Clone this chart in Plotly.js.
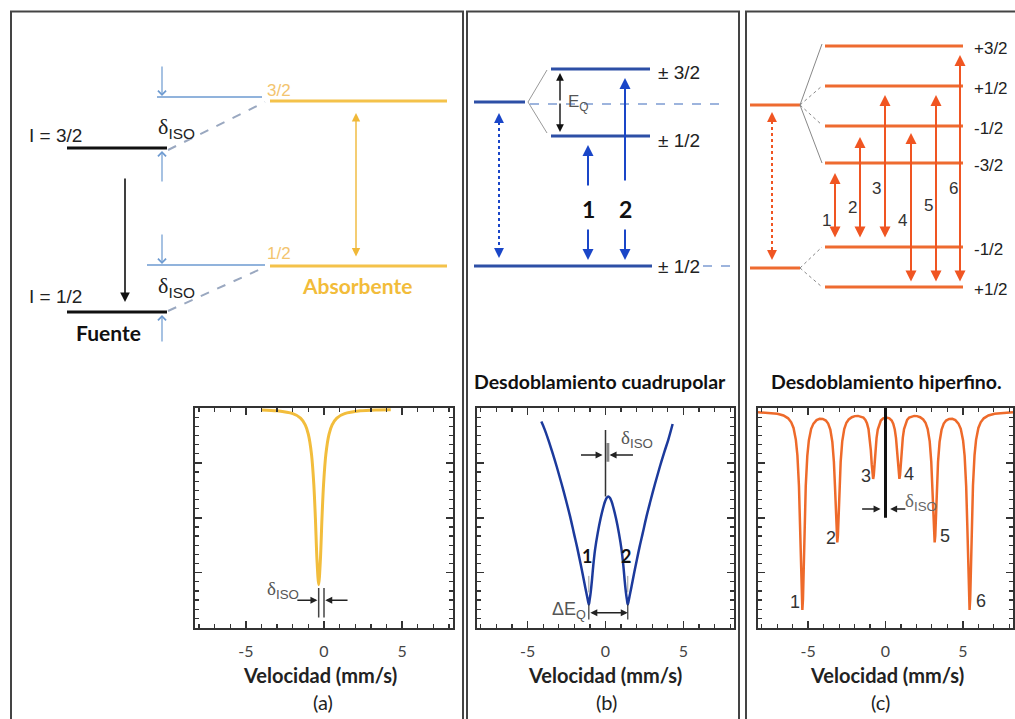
<!DOCTYPE html>
<html>
<head>
<meta charset="utf-8">
<script src="https://cdn.plot.ly/plotly-3.0.1.min.js"></script>
<style>html,body{margin:0;padding:0;background:#fff;}#chart{width:1015px;height:719px;}</style>
</head>
<body>
<div id="chart"></div>
<script>
// ---------- spectrum data (velocity mm/s, relative transmission %) ----------
const velA = [-4.0,-3.0,-2.0,-1.5,-1.2,-1.0,-0.8,-0.65,-0.55,-0.45,-0.34,-0.23,-0.13,-0.03,0.12,0.32,0.52,0.82,1.32,2.32,3.32,4.27];
const transA = [99.1,98.7,97.4,95.4,92.3,88.0,79.0,65.0,49.7,30.9,19.5,30.9,49.7,65.0,79.0,88.0,92.3,95.4,97.4,98.7,99.1,99.2];

const velB = [-4.12,-3.92,-3.67,-3.42,-3.12,-2.82,-2.52,-2.27,-2.03,-1.82,-1.6,-1.47,-1.32,-1.19,-1.12,-1.07,
  -1.02,-0.95,-0.87,-0.79,-0.67,-0.5,-0.32,-0.14,-0.02,0.08,0.18,
  0.28,0.38,0.5,0.68,0.86,1.03,1.15,1.23,1.31,1.38,1.43,
  1.48,1.55,1.68,1.83,1.96,2.18,2.39,2.63,2.88,3.18,3.48,3.78,4.03,4.31];
const transB = [93.8,90.5,85.5,80,73,65.5,57.5,50.5,43,36.5,29,24.5,19,14.5,12,10.5,
  12.5,16,21.5,27.9,35.5,43,49.5,54.8,57.6,59.1,59.7,
  59.1,57.6,54.8,49.5,43,35.5,27.9,21.5,16,12.5,10.5,
  12,14.5,19,24.5,29,36.5,43,50.5,57.5,65.5,73,80,85.5,92.7];

const velC = [-8.25,-7.5,-7.0,-6.6,-6.3,-6.1,-5.95,-5.8,-5.7,-5.6,-5.53,-5.47,-5.42,-5.38,
  -5.34,-5.29,-5.23,-5.16,-5.06,-4.96,-4.81,-4.66,-4.46,-4.26,-4.06,-3.86,-3.71,-3.57,-3.44,-3.34,-3.27,-3.21,-3.16,-3.12,
  -3.08,-3.03,-2.97,-2.90,-2.80,-2.67,-2.53,-2.38,-2.18,-1.98,-1.78,-1.58,-1.43,-1.3,-1.2,-1.1,-1.02,-0.95,-0.89,-0.84,-0.8,
  -0.76,-0.71,-0.65,-0.58,-0.5,-0.4,-0.3,-0.15,0.05,0.25,0.4,0.5,0.6,0.68,0.75,0.81,0.86,0.9,
  0.94,0.99,1.05,1.12,1.2,1.3,1.4,1.53,1.68,1.86,2.04,2.24,2.44,2.59,2.73,2.86,2.96,3.03,3.09,3.14,3.18,
  3.22,3.27,3.33,3.4,3.5,3.63,3.77,3.92,4.12,4.32,4.52,4.72,4.87,5.02,5.12,5.22,5.29,5.35,5.4,5.44,
  5.48,5.53,5.59,5.66,5.76,5.86,6.01,6.16,6.36,6.66,7.06,7.56,8.25];
const transC = [98.1,97.8,97.35,96.6,95.3,93.5,90.9,85.5,78.4,64.6,47.6,27.9,12.9,8.0,
  12.8,27.7,47.4,64.4,78.2,85.2,90.5,92.9,94.5,95.1,95.0,94.3,92.9,90.2,84.6,75.6,64.5,51.5,41.7,38.8,
  41.8,51.7,64.5,75.6,84.8,90.4,93.3,94.8,95.8,96.3,96.4,96.1,95.6,94.6,93.1,90.4,86.5,80.8,74.3,69.3,67.7,
  69.2,74.1,80.6,86.3,90.2,92.85,94.3,95.3,95.7,95.3,94.3,92.85,90.2,86.3,80.6,74.1,69.2,67.7,
  69.3,74.3,80.8,86.5,90.4,93.1,94.6,95.6,96.1,96.4,96.3,95.8,94.8,93.3,90.4,84.8,75.6,64.5,51.7,41.8,38.8,
  41.7,51.5,64.5,75.6,84.6,90.2,92.9,94.3,95.0,95.1,94.5,92.9,90.5,85.2,78.2,64.4,47.4,27.7,12.8,8.0,
  12.9,27.9,47.6,64.6,78.4,85.5,90.9,93.5,95.3,96.6,97.35,97.8,98.1];

const tickVals = [-5, 0, 5];
const tickText = ['-5', '0', '5'];
const xTitle = 'Velocidad (mm/s)';
const panelLabels = ['(a)', '(b)', '(c)'];
const headings = ['Desdoblamiento cuadrupolar', 'Desdoblamiento hiperfino.'];
const levelLabelsB = ['± 3/2', '± 1/2', '± 1/2'];
const levelLabelsC = ['+3/2', '+1/2', '-1/2', '-3/2', '-1/2', '+1/2'];
const transitionsC = ['1', '2', '3', '4', '5', '6'];

// ---------- helpers ----------
const shapes = [];
const ann = [];
function line(xr, yr, x0, y0, x1, y1, color, width, dash) {
  shapes.push({type: 'line', xref: xr, yref: yr, x0, y0, x1, y1, line: {color, width, dash: dash || 'solid'}});
}
function oline(x0, y0, x1, y1, color, width, dash) { line('x4', 'y4', x0, y0, x1, y1, color, width, dash); }
function arrow(xr, yr, x0, y0, x1, y1, color, width, head, both, size) {
  ann.push({xref: xr, yref: yr, axref: xr, ayref: yr, x: x1, y: y1, ax: x0, ay: y0, text: '',
    showarrow: true, arrowhead: head, startarrowhead: head, arrowsize: size || 1, startarrowsize: size || 1,
    arrowwidth: width, arrowcolor: color, arrowside: both ? 'end+start' : 'end', standoff: 0, startstandoff: 0});
}
function oarrow(x0, y0, x1, y1, color, width, head, both, size) { arrow('x4', 'y4', x0, y0, x1, y1, color, width, head, both, size); }
function text(xr, yr, x, y, t, size, color, family, xa) {
  ann.push({xref: xr, yref: yr, x, y, text: t, showarrow: false, xanchor: xa || 'center', yanchor: 'middle',
    font: {size, color, family: family || 'Liberation Sans, Arial, sans-serif'}});
}
function otext(x, y, t, size, color, family, xa) { text('x4', 'y4', x, y, t, size, color, family, xa); }
const delta = '<span style="font-family:Liberation Serif">δ</span><sub>ISO</sub>';
const LATO = 'Lato, sans-serif';

// ---------- panel frames ----------
[[11, 463], [467, 739], [746, 1030]].forEach(p => {
  shapes.push({type: 'rect', xref: 'x4', yref: 'y4', x0: p[0], x1: p[1], y0: 11.5, y1: 740, line: {color: '#444', width: 2}, fillcolor: 'rgba(0,0,0,0)'});
});

// ---------- panel (a) diagram ----------
const blk = '#111', ltBlue = '#6D9AD0', yel = '#F4C24A', dashGray = '#9AA8C0';
oline(67, 148, 167, 148, blk, 3);
oline(67, 312, 167, 312, blk, 3);
oarrow(125, 177, 125, 302, blk, 1.6, 2, false, 1.2);
oline(157, 97, 262, 97, ltBlue, 1.6);
oline(147, 265, 265, 265, ltBlue, 1.6);
oarrow(162, 65, 162, 96, ltBlue, 1.2, 4, false, 1.3);
oarrow(162, 183, 162, 151, ltBlue, 1.2, 4, false, 1.3);
oarrow(162, 233, 162, 264, ltBlue, 1.2, 4, false, 1.3);
oarrow(162, 343, 162, 315, ltBlue, 1.2, 4, false, 1.3);
oline(168, 150, 265, 102, dashGray, 2, 'dash');
oline(168, 311, 265, 267, dashGray, 2, 'dash');
oline(270, 101, 447, 101, yel, 3);
oline(270, 266, 447, 266, yel, 3);
oarrow(356, 258, 356, 113, '#F0B838', 1.4, 2, true, 1.2);
otext(55, 135, 'I = 3/2', 19, '#222');
otext(55, 296, 'I = 1/2', 19, '#222');
otext(108, 332, '<b>Fuente</b>', 21, '#111', LATO);
otext(176, 128, delta, 22, '#222');
otext(176, 287, delta, 22, '#222');
otext(279, 90, '3/2', 17, '#F3C46E');
otext(279, 253, '1/2', 17, '#F3C46E');
otext(357, 285, '<b>Absorbente</b>', 21, '#F2BC3A', LATO);

// ---------- panel (b) diagram ----------
const bBlue = '#2D4FA6', bArrow = '#1A46C8', bDash = '#9DB4DD';
oline(474, 102, 525, 102, bBlue, 3);
oline(528, 102, 547, 70, '#999', 1);
oline(528, 102, 547, 133, '#999', 1);
oline(530, 104, 728, 104, bDash, 2, 'dash');
oline(551, 69, 650, 69, bBlue, 3);
oline(551, 136, 650, 136, bBlue, 3);
oline(474, 266, 652, 266, bBlue, 3);
oline(703, 266, 733, 266, bDash, 2, 'dash');
oarrow(560, 102, 560, 73, '#111', 1.4, 2, false, 1.1);
oarrow(560, 102, 560, 132, '#111', 1.4, 2, false, 1.1);
oline(499, 122, 499, 250, bArrow, 2, 'dot');
oarrow(499, 124, 499, 113, bArrow, 1.8, 2, false, 1.1);
oarrow(499, 247, 499, 258, bArrow, 1.8, 2, false, 1.1);
oarrow(588, 187, 588, 145, bArrow, 2, 2, false, 1.1);
oarrow(588, 228, 588, 260, bArrow, 2, 2, false, 1.1);
oarrow(625, 182, 625, 78, bArrow, 2, 2, false, 1.1);
oarrow(625, 228, 625, 260, bArrow, 2, 2, false, 1.1);
otext(656, 72, levelLabelsB[0], 19, '#222', null, 'left');
otext(656, 140, levelLabelsB[1], 19, '#222', null, 'left');
otext(656, 266, levelLabelsB[2], 19, '#222', null, 'left');
otext(578, 103, 'E<sub>Q</sub>', 17, '#555');
otext(588, 209, '<b>1</b>', 23, '#111', LATO);
otext(625, 209, '<b>2</b>', 23, '#111', LATO);
otext(600, 381, '<b>' + headings[0] + '</b>', 19.5, '#111', LATO);

// ---------- panel (c) diagram ----------
const org = '#EE6B30', oArrow = '#F05522';
oline(750, 105, 800, 105, org, 3);
oline(750, 268, 800, 268, org, 3);
oline(800, 105, 822, 44, '#888', 1);
oline(800, 105, 822, 86, '#888', 1, 'dot');
oline(800, 105, 822, 125, '#888', 1, 'dot');
oline(800, 105, 822, 163, '#888', 1);
oline(800, 268, 822, 247, '#888', 1, 'dot');
oline(800, 268, 822, 287, '#888', 1, 'dot');
const levC = [46, 86, 126, 163, 247, 287];
levC.forEach((y, i) => {
  oline(825, y, 963, y, org, 3);
  otext(972, y + 2, levelLabelsC[i], 17, '#222', null, 'left');
});
oline(772, 121, 772, 252, oArrow, 2, 'dot');
oarrow(772, 123, 772, 112, oArrow, 1.8, 2, false, 1.1);
oarrow(772, 249, 772, 260, oArrow, 1.8, 2, false, 1.1);
const trX = [835, 860, 885, 911, 936, 960];
const trTop = [173, 137, 95, 133, 95, 55];
const trBot = [239, 239, 239, 283, 283, 283];
trX.forEach((x, i) => oarrow(x, trBot[i], x, trTop[i], oArrow, 2, 2, true, 1.1));
const trLX = [826, 852, 876, 902, 928, 953];
const trLY = [220, 207, 188, 220, 205, 188];
transitionsC.forEach((t, i) => otext(trLX[i], trLY[i], t, 17, '#333'));
otext(886, 381, '<b>' + headings[1] + '</b>', 19.5, '#111', LATO);

// ---------- bottom labels ----------
[[320, 323], [605, 606], [887, 880]].forEach((p, i) => {
  otext(p[0], 675, '<b>' + xTitle + '</b>', 20, '#222', LATO);
  otext(p[1], 702, panelLabels[i], 20, '#222', LATO);
});

// ---------- spectrum annotations ----------
// (a)
line('x', 'y', -0.34, 4.6, -0.34, 18, '#444', 1.5);
line('x', 'y', 0, 4.6, 0, 18, '#444', 1.5);
arrow('x', 'y', -1.8, 12.4, -0.42, 12.4, '#222', 1.4, 2, false, 1);
arrow('x', 'y', 1.6, 12.4, 0.08, 12.4, '#222', 1.4, 2, false, 1);
text('x', 'y', -2.6, 17, delta, 19, '#555');
// (b)
line('x2', 'y2', 0, 59.7, 0, 90, '#333', 1.5);
line('x2', 'y2', 0.15, 75.5, 0.15, 84, '#888', 3);
arrow('x2', 'y2', -1.67, 78.6, -0.19, 78.6, '#222', 1.4, 2, false, 1);
arrow('x2', 'y2', 1.86, 78.6, 0.26, 78.6, '#222', 1.4, 2, false, 1);
text('x2', 'y2', 2.0, 86, delta, 19, '#555');
text('x2', 'y2', -1.22, 32.4, '<b>1</b>', 18, '#111', LATO);
text('x2', 'y2', 1.3, 32.4, '<b>2</b>', 18, '#111', LATO);
line('x2', 'y2', -1.07, 16, -1.07, 23.5, '#999', 1);
line('x2', 'y2', 1.43, 16, 1.43, 23.5, '#999', 1);
line('x2', 'y2', -1.07, 3.6, -1.07, 10.5, '#333', 1.2);
line('x2', 'y2', 1.43, 3.6, 1.43, 10.5, '#333', 1.2);
arrow('x2', 'y2', -1.07, 6.7, 1.43, 6.7, '#222', 1.4, 2, true, 1);
text('x2', 'y2', -2.35, 7.6, 'ΔE<sub>Q</sub>', 18, '#555');
// (c)
line('x3', 'y3', 0, 50, 0, 100, '#111', 3);
arrow('x3', 'y3', -1.61, 54, -0.32, 54, '#222', 1.4, 2, false, 1);
arrow('x3', 'y3', 1.38, 54, 0.3, 54, '#222', 1.4, 2, false, 1);
text('x3', 'y3', 2.3, 57, delta, 19, '#666');
const numX = [-5.83, -3.55, -1.25, 1.5, 3.87, 6.21];
const numY = [11.5, 41, 69, 70, 41.8, 12.3];
transitionsC.forEach((t, i) => text('x3', 'y3', numX[i], numY[i], t, 18, '#333'));

// ---------- axes ----------
const W = 1015, H = 719;
const yDom = [1 - 627.5 / H, 1 - 408 / H];
function xax(px0, px1, yname) {
  return {domain: [px0 / W, px1 / W], range: [-8.25, 8.25], anchor: yname, showgrid: false, zeroline: false,
    showline: true, linecolor: '#333', linewidth: 2, mirror: 'allticks', ticks: 'inside', ticklen: 7, tickwidth: 1.5,
    tickcolor: '#333', tickmode: 'array', tickvals: tickVals, ticktext: tickText, ticklabelstandoff: 8,
    tickfont: {family: LATO, size: 16, color: '#444'},
    minor: {tickmode: 'linear', tick0: 0, dtick: 1, ticks: 'inside', ticklen: 4, tickcolor: '#333', tickwidth: 1.2},
    fixedrange: true};
}
function yax(xname) {
  return {domain: yDom, range: [0, 100], anchor: xname, showgrid: false, zeroline: false, showline: true,
    linecolor: '#333', linewidth: 2, mirror: 'allticks', ticks: 'inside', ticklen: 7, tickwidth: 1.5, tickcolor: '#333',
    dtick: 25, tick0: 0, showticklabels: false,
    minor: {dtick: 25 / 6, tick0: 0, ticks: 'inside', ticklen: 4, tickcolor: '#333', tickwidth: 1.2}, fixedrange: true};
}

const traces = [
  {x: velA, y: transA, xaxis: 'x', yaxis: 'y', type: 'scatter', mode: 'lines', line: {color: '#F2BD3C', width: 3, shape: 'spline', smoothing: 0.8}, hoverinfo: 'skip'},
  {x: velB, y: transB, xaxis: 'x2', yaxis: 'y2', type: 'scatter', mode: 'lines', line: {color: '#1C3A9C', width: 2.5, shape: 'spline', smoothing: 1}, hoverinfo: 'skip'},
  {x: velC, y: transC, xaxis: 'x3', yaxis: 'y3', type: 'scatter', mode: 'lines', line: {color: '#EE6A2A', width: 2.5, shape: 'linear'}, hoverinfo: 'skip'},
  {x: [], y: [], xaxis: 'x4', yaxis: 'y4', type: 'scatter', mode: 'lines', hoverinfo: 'skip'}
];

const layout = {
  width: W, height: H, margin: {l: 0, r: 0, t: 0, b: 0}, showlegend: false,
  paper_bgcolor: '#fff', plot_bgcolor: 'rgba(0,0,0,0)',
  xaxis: xax(195, 453, 'y'), yaxis: yax('x'),
  xaxis2: xax(477, 734, 'y2'), yaxis2: yax('x2'),
  xaxis3: xax(758, 1013, 'y3'), yaxis3: yax('x3'),
  xaxis4: {domain: [0, 1], range: [0, W], anchor: 'y4', visible: false, fixedrange: true},
  yaxis4: {domain: [0, 1], range: [H, 0], anchor: 'x4', visible: false, fixedrange: true},
  shapes: shapes, annotations: ann
};
Plotly.newPlot('chart', traces, layout, {displayModeBar: false, staticPlot: true});
</script>
</body>
</html>
